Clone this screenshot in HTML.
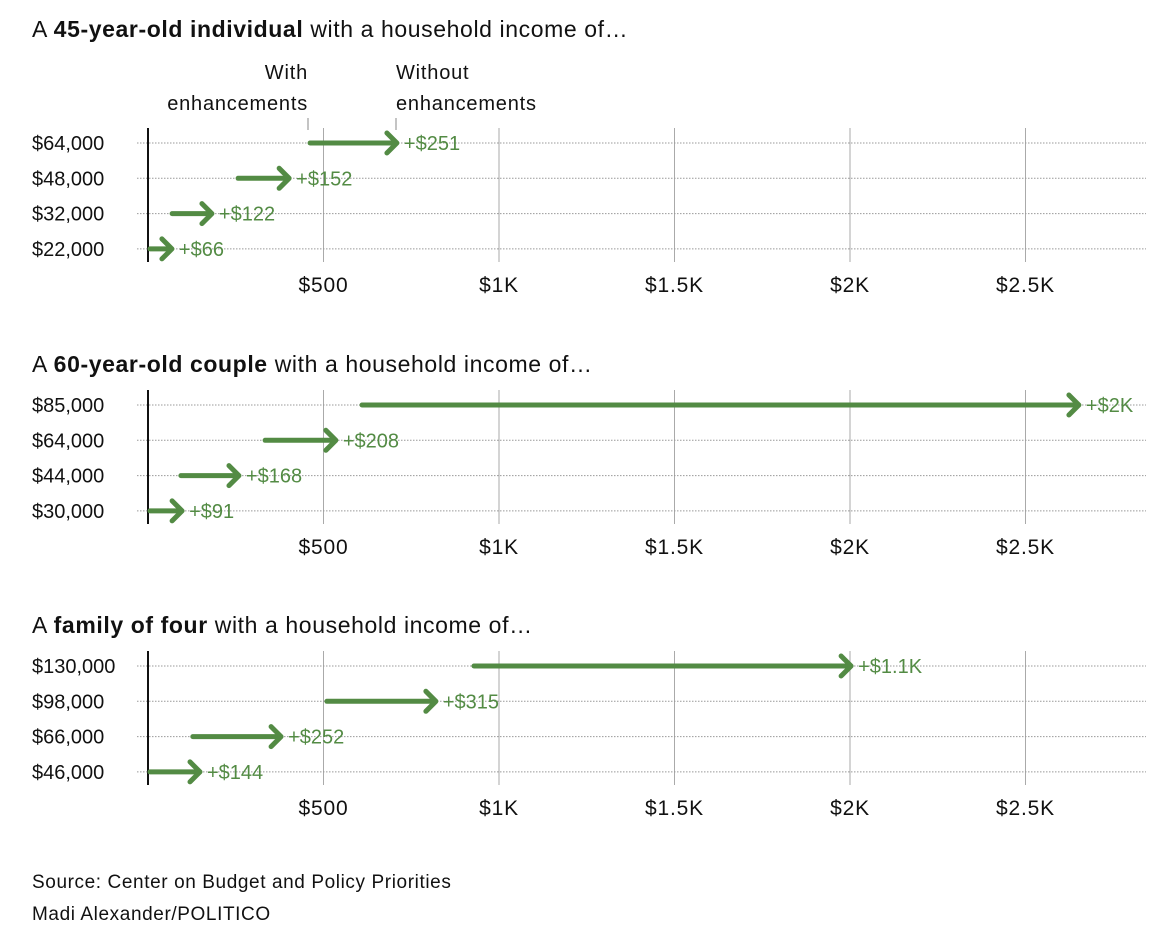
<!DOCTYPE html>
<html><head><meta charset="utf-8"><style>
body{margin:0;background:#fff;width:1154px;height:941px;overflow:hidden;font-family:"Liberation Sans",sans-serif}
svg{display:block}
</style></head><body>
<svg id="chart" width="1154" height="941" viewBox="0 0 1154 941"></svg>
<script>
const ticks=[500,1000,1500,2000,2500];
const tickLabels=["$500","$1K","$1.5K","$2K","$2.5K"];
const p1Cats=["$64,000","$48,000","$32,000","$22,000"];
const p1With=[456,251,63,0];
const p1Without=[712,405,185,71];
const p1Labels=["+$251","+$152","+$122","+$66"];
const p2Cats=["$85,000","$64,000","$44,000","$30,000"];
const p2With=[604,328,88,0];
const p2Without=[2655,538,262,100];
const p2Labels=["+$2K","+$208","+$168","+$91"];
const p3Cats=["$130,000","$98,000","$66,000","$46,000"];
const p3With=[923,504,122,0];
const p3Without=[2006,823,382,151];
const p3Labels=["+$1.1K","+$315","+$252","+$144"];

const NS="http://www.w3.org/2000/svg";
const svg=document.getElementById('chart');
const G="#538b44";
const x=v=>148+v*0.351;
function el(t,a,p){const e=document.createElementNS(NS,t);for(const k in a)e.setAttribute(k,a[k]);(p||svg).appendChild(e);return e;}
function txt(s,a,p){const e=el('text',a,p);e.textContent=s;return e;}

function title(y,pre,b,post,name){
  const t=txt('',{x:32,y:y,'font-size':23,'letter-spacing':0.6,fill:'#111'});
  
  
  const s1=el('tspan',{},t);s1.textContent=pre;
  const s2=el('tspan',{'font-weight':'bold'},t);s2.textContent=b;
  const s3=el('tspan',{},t);s3.textContent=post;
}
function panel(top,cats,w,wo,labels,name){
  const g=el('g',{});
  
  
  const rows=cats.map((c,i)=>top+15+i*35.3);
  ticks.forEach((t,i)=>{
    const gl=el('line',{x1:x(t),x2:x(t),y1:top,y2:top+134,stroke:'#aaa','stroke-width':1},g);
    
    
    const tl=txt(tickLabels[i],{x:x(t),y:top+164,'text-anchor':'middle','font-size':21,'letter-spacing':0.8,fill:'#111'},g);
    
    
  });
  rows.forEach((y,i)=>{
    const hl=el('line',{x1:137,x2:1146,y1:y,y2:y,stroke:'#999','stroke-width':1,'stroke-dasharray':'1.5,1.5'},g);
    
    
    const cl=txt(cats[i],{x:32,y:y+7,'font-size':20,fill:'#111'},g);
    
    
  });
  const ax=el('line',{x1:148,x2:148,y1:top,y2:top+134,stroke:'#111','stroke-width':2},g);
  
  
  rows.forEach((y,i)=>{
    const x1=x(w[i]),x2=x(wo[i]);
    const a=el('g',{},g);
    
    
    el('line',{x1:x1+2,x2:x2-2,y1:y,y2:y,stroke:G,'stroke-width':5,'stroke-linecap':'round'},a);
    el('polyline',{points:`${x2-11},${y-10} ${x2-1},${y} ${x2-11},${y+10}`,fill:'none',stroke:G,'stroke-width':5,'stroke-linecap':'round','stroke-linejoin':'round'},a);
    const vl=txt(labels[i],{x:x2+6,y:y+7,'font-size':20,fill:G},g);
    
    
  });
}
title(37,'A ','45-year-old individual',' with a household income of…','panel1-title');
title(372,'A ','60-year-old couple',' with a household income of…','panel2-title');
title(633,'A ','family of four',' with a household income of…','panel3-title');

const ann=el('g',{});


txt('With',{x:308,y:79,'text-anchor':'end','font-size':20,'letter-spacing':0.8,fill:'#111'},ann);
txt('enhancements',{x:308,y:110,'text-anchor':'end','font-size':20,'letter-spacing':0.8,fill:'#111'},ann);
txt('Without',{x:396,y:79,'font-size':20,'letter-spacing':0.8,fill:'#111'},ann);
txt('enhancements',{x:396,y:110,'font-size':20,'letter-spacing':0.8,fill:'#111'},ann);
el('line',{x1:308,x2:308,y1:118,y2:130,stroke:'#888'},ann);
el('line',{x1:396,x2:396,y1:118,y2:130,stroke:'#888'},ann);

panel(128,p1Cats,p1With,p1Without,p1Labels,'panel-individual');
panel(390,p2Cats,p2With,p2Without,p2Labels,'panel-couple');
panel(651,p3Cats,p3With,p3Without,p3Labels,'panel-family');

const s=txt('Source: Center on Budget and Policy Priorities',{x:32,y:888,'font-size':19,'letter-spacing':0.6,fill:'#111'});


const c=txt('Madi Alexander/POLITICO',{x:32,y:920,'font-size':19,'letter-spacing':0.6,fill:'#111'});


</script>
</body></html>
